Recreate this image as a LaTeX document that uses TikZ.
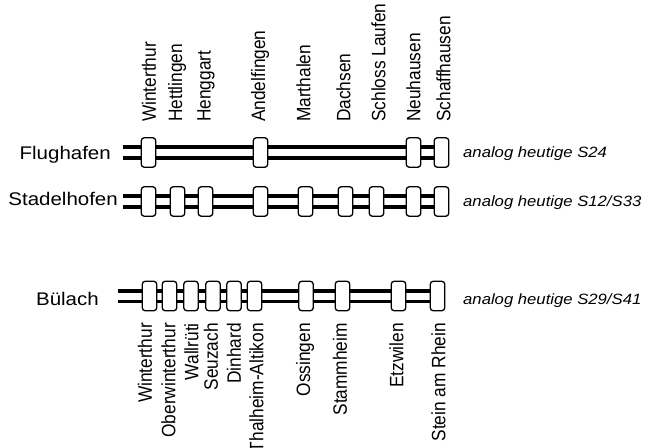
\documentclass[tikz,border=0pt]{standalone}
\usepackage{fontspec}
\setmainfont{Liberation Sans}
\pgfdeclarelayer{bg}
\pgfsetlayers{bg,main}
\newcommand{\hstr}[1]{\scalebox{1.12}[1]{#1}}
\newcommand{\vstr}[1]{\scalebox{1}[1.12]{#1}}
\begin{document}
\begin{tikzpicture}[x=1pt,y=-1pt,
  stationbox/.style={draw=black, fill=white, line width=1.3pt, rounded corners=3pt,
    minimum width=14.5pt, minimum height=29.5pt, inner sep=0pt},
  trackouter/.style={line width=14.5pt, draw=black},
  trackinner/.style={line width=7pt, draw=white},
  toplabel/.style={rotate=90, anchor=west, inner sep=0pt, font=\fontsize{17.3}{20}\selectfont},
  botlabel/.style={rotate=90, anchor=east, inner sep=0pt, font=\fontsize{17.3}{20}\selectfont},
  rowlabel/.style={anchor=base east, inner sep=0pt, font=\fontsize{18.3}{22}\selectfont},
  note/.style={anchor=base west, inner sep=0pt, font=\fontsize{14.9}{18}\selectfont\itshape}]
\useasboundingbox (0,0) rectangle (650,447);

% Flughafen line
\coordinate (f0) at (123,152.5);
\foreach \x [count=\i] in {148.5,260.5,413.5,441.5}
  \node[stationbox] (f\i) at (\x,152.5) {};
\begin{pgfonlayer}{bg}
  \draw[trackouter] (f0) -- (f4.center);
  \draw[trackinner] (f0) -- (f4.center);
\end{pgfonlayer}

% Stadelhofen line
\coordinate (s0) at (123,201.5);
\foreach \x [count=\i] in {148.5,177.5,205.5,260.5,305.5,345.5,376.5,413.5,441.5}
  \node[stationbox] (s\i) at (\x,201.5) {};
\begin{pgfonlayer}{bg}
  \draw[trackouter] (s0) -- (s9.center);
  \draw[trackinner] (s0) -- (s9.center);
\end{pgfonlayer}

% Buelach line
\coordinate (b0) at (118,296);
\foreach \x [count=\i] in {149.5,169.5,191,213,234,254.5,306,342.5,398.5,437.5}
  \node[stationbox] (b\i) at (\x,296) {};
\begin{pgfonlayer}{bg}
  \draw[trackouter] (b0) -- (b10.center);
  \draw[trackinner] (b0) -- (b10.center);
\end{pgfonlayer}

% top station labels
\foreach \x/\t [count=\i] in {149/Winterthur,177/Hettlingen,206/Henggart,260/Andelfingen,303.5/Marthalen,343.5/Dachsen,378.5/Schloss Laufen,413.5/Neuhausen,443.5/Schaffhausen}
  \node[toplabel] (t\i) at (\x,122) {\vstr{\t}};

% bottom station labels
\foreach \x/\t [count=\i] in {145/Winterthur,168.5/Oberwinterthur,191.5/Wallrüti,211/Seuzach,234/Dinhard,256.5/Thalheim-Altikon,305/Ossingen,340/Stammheim,396.5/Etzwilen,438.5/Stein am Rhein}
  \node[botlabel] (u\i) at (\x,323) {\vstr{\t}};

% row labels
\node[rowlabel] (lf) at (111,159.5) {\hstr{Flughafen}};
\node[rowlabel] (ls) at (118,205) {\hstr{Stadelhofen}};
\node[rowlabel] (lb) at (99,305) {\hstr{Bülach}};

% notes
\node[note] (nf) at (463,157.5) {\hstr{analog heutige S24}};
\node[note] (ns) at (463,206) {\hstr{analog heutige S12/S33}};
\node[note] (nb) at (463,304) {\hstr{analog heutige S29/S41}};
\end{tikzpicture}
\end{document}
